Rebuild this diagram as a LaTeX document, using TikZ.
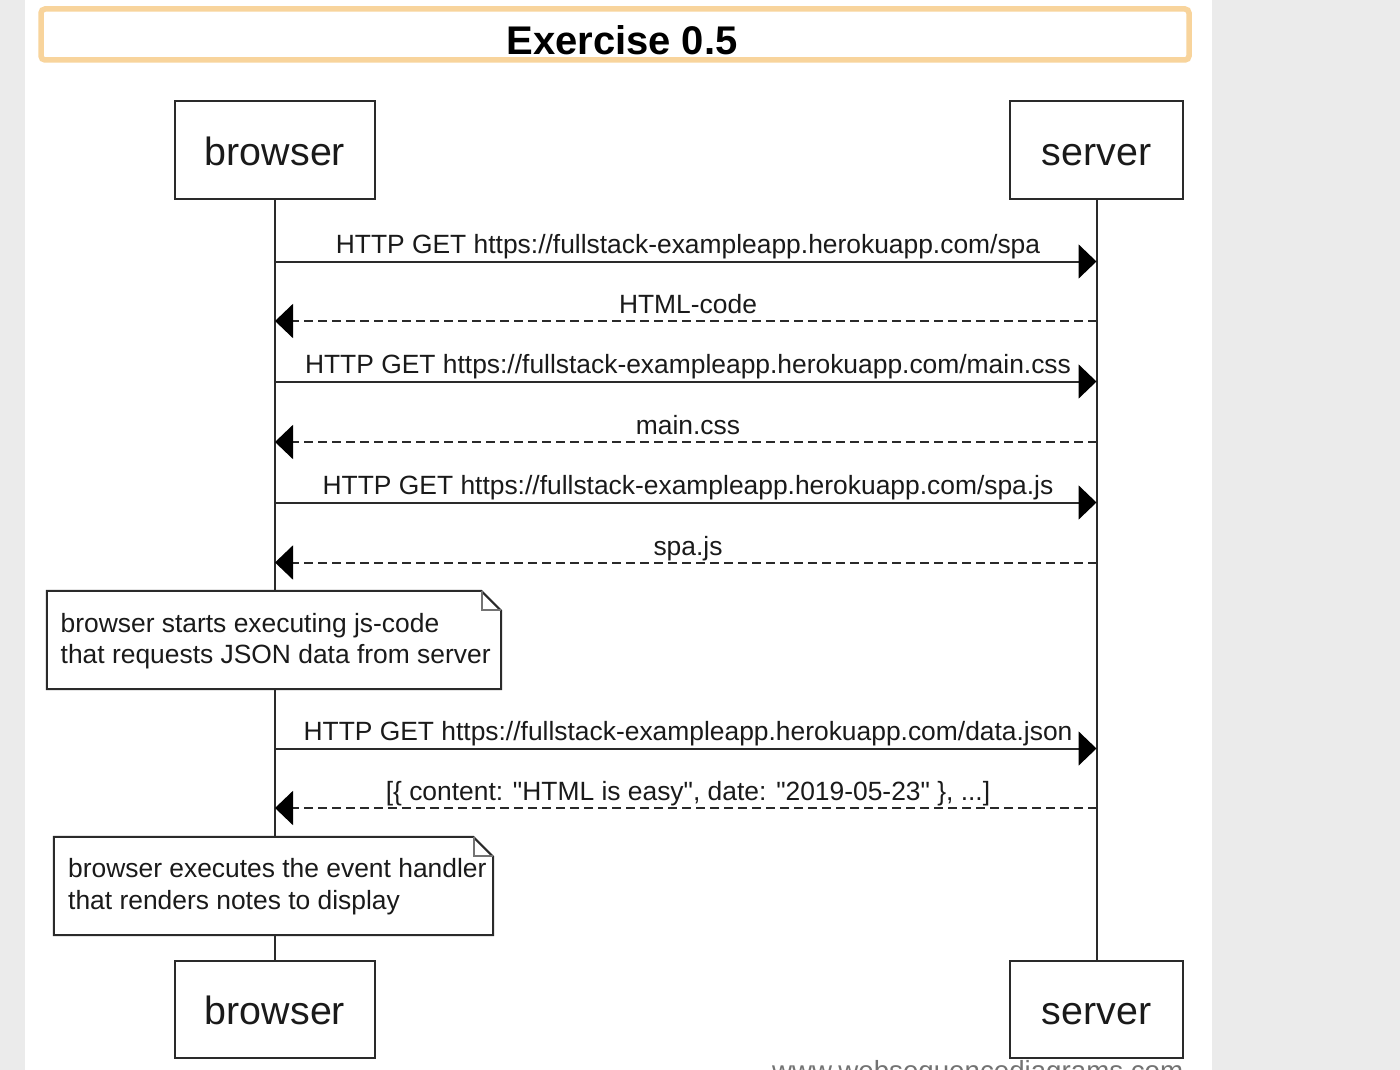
\documentclass[tikz,border=0pt]{standalone}
\usepackage{fontspec}
\setmainfont{Liberation Sans}[Ligatures=TeXOff]
\usetikzlibrary{arrows.meta}
\definecolor{linec}{HTML}{2A2A2A}
\definecolor{titlec}{HTML}{F8D49C}
\definecolor{grayback}{HTML}{EBEBEB}
\definecolor{txtc}{HTML}{1A1A1A}
\begin{document}
\begin{tikzpicture}[x=1pt,y=-1pt,
  part/.style={draw=linec, line width=2.2pt, fill=white, inner sep=0pt,
    font=\fontsize{39.4}{47}\selectfont, text=txtc, text height=30pt, text depth=0pt},
  lbl/.style={font=\fontsize{26.4}{32}\selectfont, anchor=base, inner sep=0pt, text=txtc},
  notetxt/.style={lbl, anchor=base west},
  sync/.style={draw=linec, line width=2pt, -{Triangle[length=18pt,width=34pt,fill=black,color=black]}},
  reply/.style={sync, dash pattern=on 9pt off 5pt},
  life/.style={draw=linec, line width=2pt},
  notebox/.style={fill=white, inner sep=0pt},
  noteline/.style={draw=linec, line width=2pt, line join=miter},
  foldline/.style={draw=black!55, line width=2pt},
]
\useasboundingbox (0,0) rectangle (1400,1070);
\fill[grayback] (0,0) rectangle (1400,1070);
\fill[white] (25,0) rectangle (1212,1070);

% title
\node[draw=titlec, line width=5.5pt, rounded corners=4pt, minimum width=1148pt,
      minimum height=51pt, inner sep=0pt] (title) at (615,34.5) {};
\node[font=\bfseries\fontsize{40}{48}\selectfont, anchor=base, inner sep=0pt, text=black] (ttl) at (622,55) {Exercise 0.5};

% participants
\node[part, minimum width=200pt, minimum height=98pt] (bt) at (275,150) {browser};
\node[part, minimum width=173pt, minimum height=98pt] (st) at (1096.5,150) {server};
\node[part, minimum width=200pt, minimum height=97pt] (bb) at (275,1009.5) {browser};
\node[part, minimum width=173pt, minimum height=97pt] (sb) at (1096.5,1009.5) {server};

% lifelines
\draw[life] (bt.south) -- (bb.north);
\draw[life] (st.south) -- (sb.north);

% messages
\draw[sync] (bt.south |- 0,261.5) -- (st.south |- 0,261.5);
\node[lbl] (l1) at (688,253) {HTTP GET https://fullstack-exampleapp.herokuapp.com/spa};
\draw[reply] (st.south |- 0,321) -- (bt.south |- 0,321);
\node[lbl] (l2) at (688,313) {HTML-code};
\draw[sync] (bt.south |- 0,381.5) -- (st.south |- 0,381.5);
\node[lbl] (l3) at (688,373) {HTTP GET https://fullstack-exampleapp.herokuapp.com/main.css};
\draw[reply] (st.south |- 0,442) -- (bt.south |- 0,442);
\node[lbl] (l4) at (688,434) {main.css};
\draw[sync] (bt.south |- 0,502.5) -- (st.south |- 0,502.5);
\node[lbl] (l5) at (688,494) {HTTP GET https://fullstack-exampleapp.herokuapp.com/spa.js};
\draw[reply] (st.south |- 0,562.5) -- (bt.south |- 0,562.5);
\node[lbl] (l6) at (688,555) {spa.js};

% note 1
\node[notebox, minimum width=454pt, minimum height=98pt] (n1) at (274,640) {};
\draw[noteline] (n1.north west) -- ([xshift=-20pt]n1.north east) -- ([yshift=-20pt]n1.north east)
   -- (n1.south east) -- (n1.south west) -- cycle;
\draw[foldline] ([xshift=-19pt]n1.north east) -- ([xshift=-19pt,yshift=-19pt]n1.north east) -- ([yshift=-19pt]n1.north east);
\node[notetxt] (n1a) at (60.5,632) {browser starts executing js-code};
\node[notetxt] (n1b) at (60.5,663.5) {that requests JSON data from server};

\draw[sync] (bt.south |- 0,748.5) -- (st.south |- 0,748.5);
\node[lbl] (l7) at (688,740) {HTTP GET https://fullstack-exampleapp.herokuapp.com/data.json};
\draw[reply] (st.south |- 0,808) -- (bt.south |- 0,808);
\node[lbl] (l8) at (688,800) {[\{ content: "HTML is easy", date: "2019-05-23" \}, ...]};

% note 2
\node[notebox, minimum width=439pt, minimum height=98pt] (n2) at (273.5,886) {};
\draw[noteline] (n2.north west) -- ([xshift=-20pt]n2.north east) -- ([yshift=-20pt]n2.north east)
   -- (n2.south east) -- (n2.south west) -- cycle;
\draw[foldline] ([xshift=-19pt]n2.north east) -- ([xshift=-19pt,yshift=-19pt]n2.north east) -- ([yshift=-19pt]n2.north east);
\node[notetxt] (n2a) at (68,877) {browser executes the event handler};
\node[notetxt] (n2b) at (68,909) {that renders notes to display};

% watermark (cut off at the lower edge, as in the reference)
\node[anchor=base west, inner sep=0pt, font=\fontsize{27.7}{33}\selectfont, text=black!55] (url) at (772,1080) {www.websequencediagrams.com};
\end{tikzpicture}
\end{document}
